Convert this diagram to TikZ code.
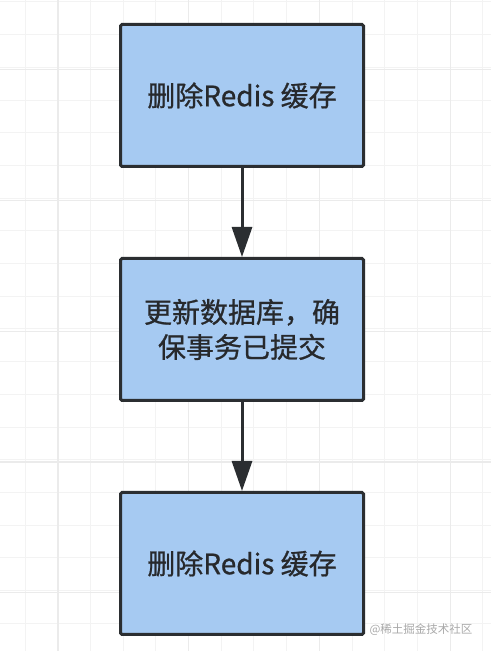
\documentclass[tikz,border=0pt]{standalone}
\usepackage{fontspec}
\setmainfont{Noto Sans CJK SC}
\newfontfamily\boxfont[FakeBold=0.8]{Noto Sans CJK SC}
\usepackage{tikz}
\usetikzlibrary{arrows.meta,positioning}
\definecolor{boxfill}{HTML}{A6CAF2}
\definecolor{boxline}{HTML}{2B2E31}
\definecolor{gridgray}{HTML}{F3F3F3}
\definecolor{gridmajor}{HTML}{EBEBEB}
\definecolor{marktext}{HTML}{A8A8A8}

\begin{document}
\begin{tikzpicture}[
            x=1pt, y=1pt,
            stepbox/.style={draw=boxline, fill=boxfill, line width=3pt,
                rounded corners=1.5pt, minimum width=243pt, minimum height=142pt,
                inner sep=0pt, align=center, text=boxline!90!black,
                font=\boxfont\fontsize{28}{35}\selectfont},
            flow/.style={draw=boxline, line width=3pt,
                -{Triangle[length=30pt,width=20pt]}},
            node distance=89pt
        ]
        \useasboundingbox (0,0) rectangle (491,651);

        % Draw grid %
        \foreach \i in {0,...,14} {
            \draw[gridgray, line width=1pt] ({25+\i*32.7},0) -- ({25+\i*32.7},651);
        }
        \foreach \j in {0,...,19} {
            \draw[gridgray, line width=1pt] (0,{651-2-\j*32.7}) -- (491,{651-2-\j*32.7});
        }
        \foreach \i in {0,...,3} {
            \draw[gridmajor, line width=1.2pt] ({58+\i*130.8},0) -- ({58+\i*130.8},651);
        }
        \foreach \j in {0,...,4} {
            \draw[gridmajor, line width=1.2pt] (0,{651-462+\j*130.8-130.8}) -- (491,{651-462+\j*130.8-130.8});
        }

        % Draw steps %
        \node[stepbox] (del1) at (242,555.5) {删除Redis 缓存};
        \node[stepbox, below = of del1] (update) {更新数据库，确\\保事务已提交};
        \node[stepbox, below = of update] (del2) {删除Redis 缓存};

        % Draw arrows %
        \draw[flow] (del1) -- (update);
        \draw[flow] (update) -- (del2);

        % Label %
        \node[text=marktext, font=\fontsize{11.5}{13}\selectfont, anchor=east] (mark) at (476,21) {@稀土掘金技术社区};
\end{tikzpicture}
\end{document}
